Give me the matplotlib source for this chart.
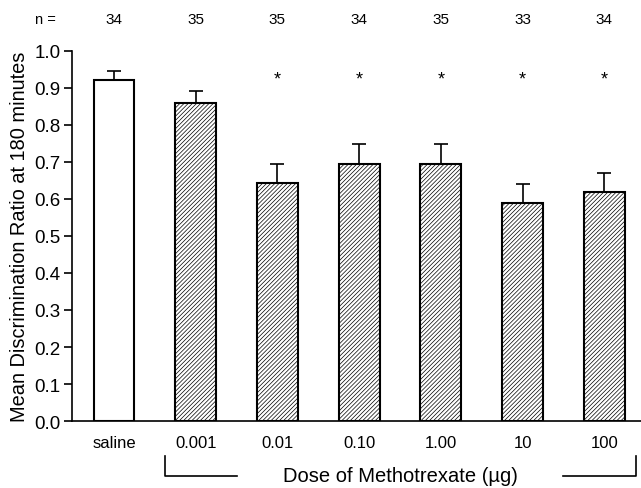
import matplotlib
matplotlib.use("Agg")
import matplotlib.pyplot as plt

plt.rcParams['font.family'] = ['Liberation Sans', 'DejaVu Sans']
plt.rcParams['hatch.linewidth'] = 0.5

# data
doses = ["saline", "0.001", "0.01", "0.10", "1.00", "10", "100"]
means = [0.922, 0.859, 0.643, 0.694, 0.695, 0.589, 0.619]
sem = [0.024, 0.033, 0.052, 0.054, 0.053, 0.052, 0.051]
n_vals = [34, 35, 35, 34, 35, 33, 34]
signif = [False, False, True, True, True, True, True]

fig = plt.figure(figsize=(6.41, 4.89), dpi=100)
ax = fig.add_axes([0.1123, 0.137, 0.8877, 0.7567])

x = list(range(len(doses)))
for i in x:
    if i == 0:
        ax.bar(i, means[i], width=0.5, color="white", edgecolor="black", linewidth=1.5, zorder=2)
    else:
        ax.bar(i, means[i], width=0.5, color="white", edgecolor="black", hatch="////////",
               linewidth=1.5, zorder=2)

ax.errorbar(x, means, yerr=[[0] * len(sem), sem], fmt="none", ecolor="black",
            elinewidth=1.2, capsize=5, capthick=1.2, zorder=1)

for i in x:
    if signif[i]:
        ax.text(i, 0.925, "*", ha="center", va="center", fontsize=13)
    ax.text(i, 1.086, str(n_vals[i]), ha="center", va="center", fontsize=11, clip_on=False)
ax.text(-0.845, 1.086, "n =", ha="center", va="center", fontsize=10.5, clip_on=False)

ax.set_xlim(-0.514, 6.45)
ax.set_ylim(0, 1.0)
ax.set_yticks([i / 10 for i in range(11)])
ax.set_yticklabels([f"{i / 10:.1f}" for i in range(11)], fontsize=13.5)
ax.tick_params(axis="y", direction="out", length=6, width=1.2, pad=2)
ax.set_xticks(x)
ax.set_xticklabels(doses, fontsize=12)
ax.tick_params(axis="x", length=0, pad=10)
ax.spines["top"].set_visible(False)
ax.spines["right"].set_visible(False)
ax.spines["left"].set_linewidth(1.2)
ax.spines["bottom"].set_linewidth(1.2)
ax.set_ylabel("Mean Discrimination Ratio at 180 minutes", fontsize=14.4, labelpad=4)

# bracket under the dose labels
fig.lines.append(plt.Line2D([165 / 641, 165 / 641, 237 / 641], [1 - 457 / 489, 1 - 477 / 489, 1 - 477 / 489],
                            transform=fig.transFigure, color="black", linewidth=1.2))
fig.lines.append(plt.Line2D([563 / 641, 636 / 641, 636 / 641], [1 - 477 / 489, 1 - 477 / 489, 1 - 457 / 489],
                            transform=fig.transFigure, color="black", linewidth=1.2))
fig.text(400 / 641, 1 - 477 / 489, "Dose of Methotrexate (\u00b5g)", ha="center", va="center", fontsize=14.5)

fig.savefig("out.png", dpi=100)
